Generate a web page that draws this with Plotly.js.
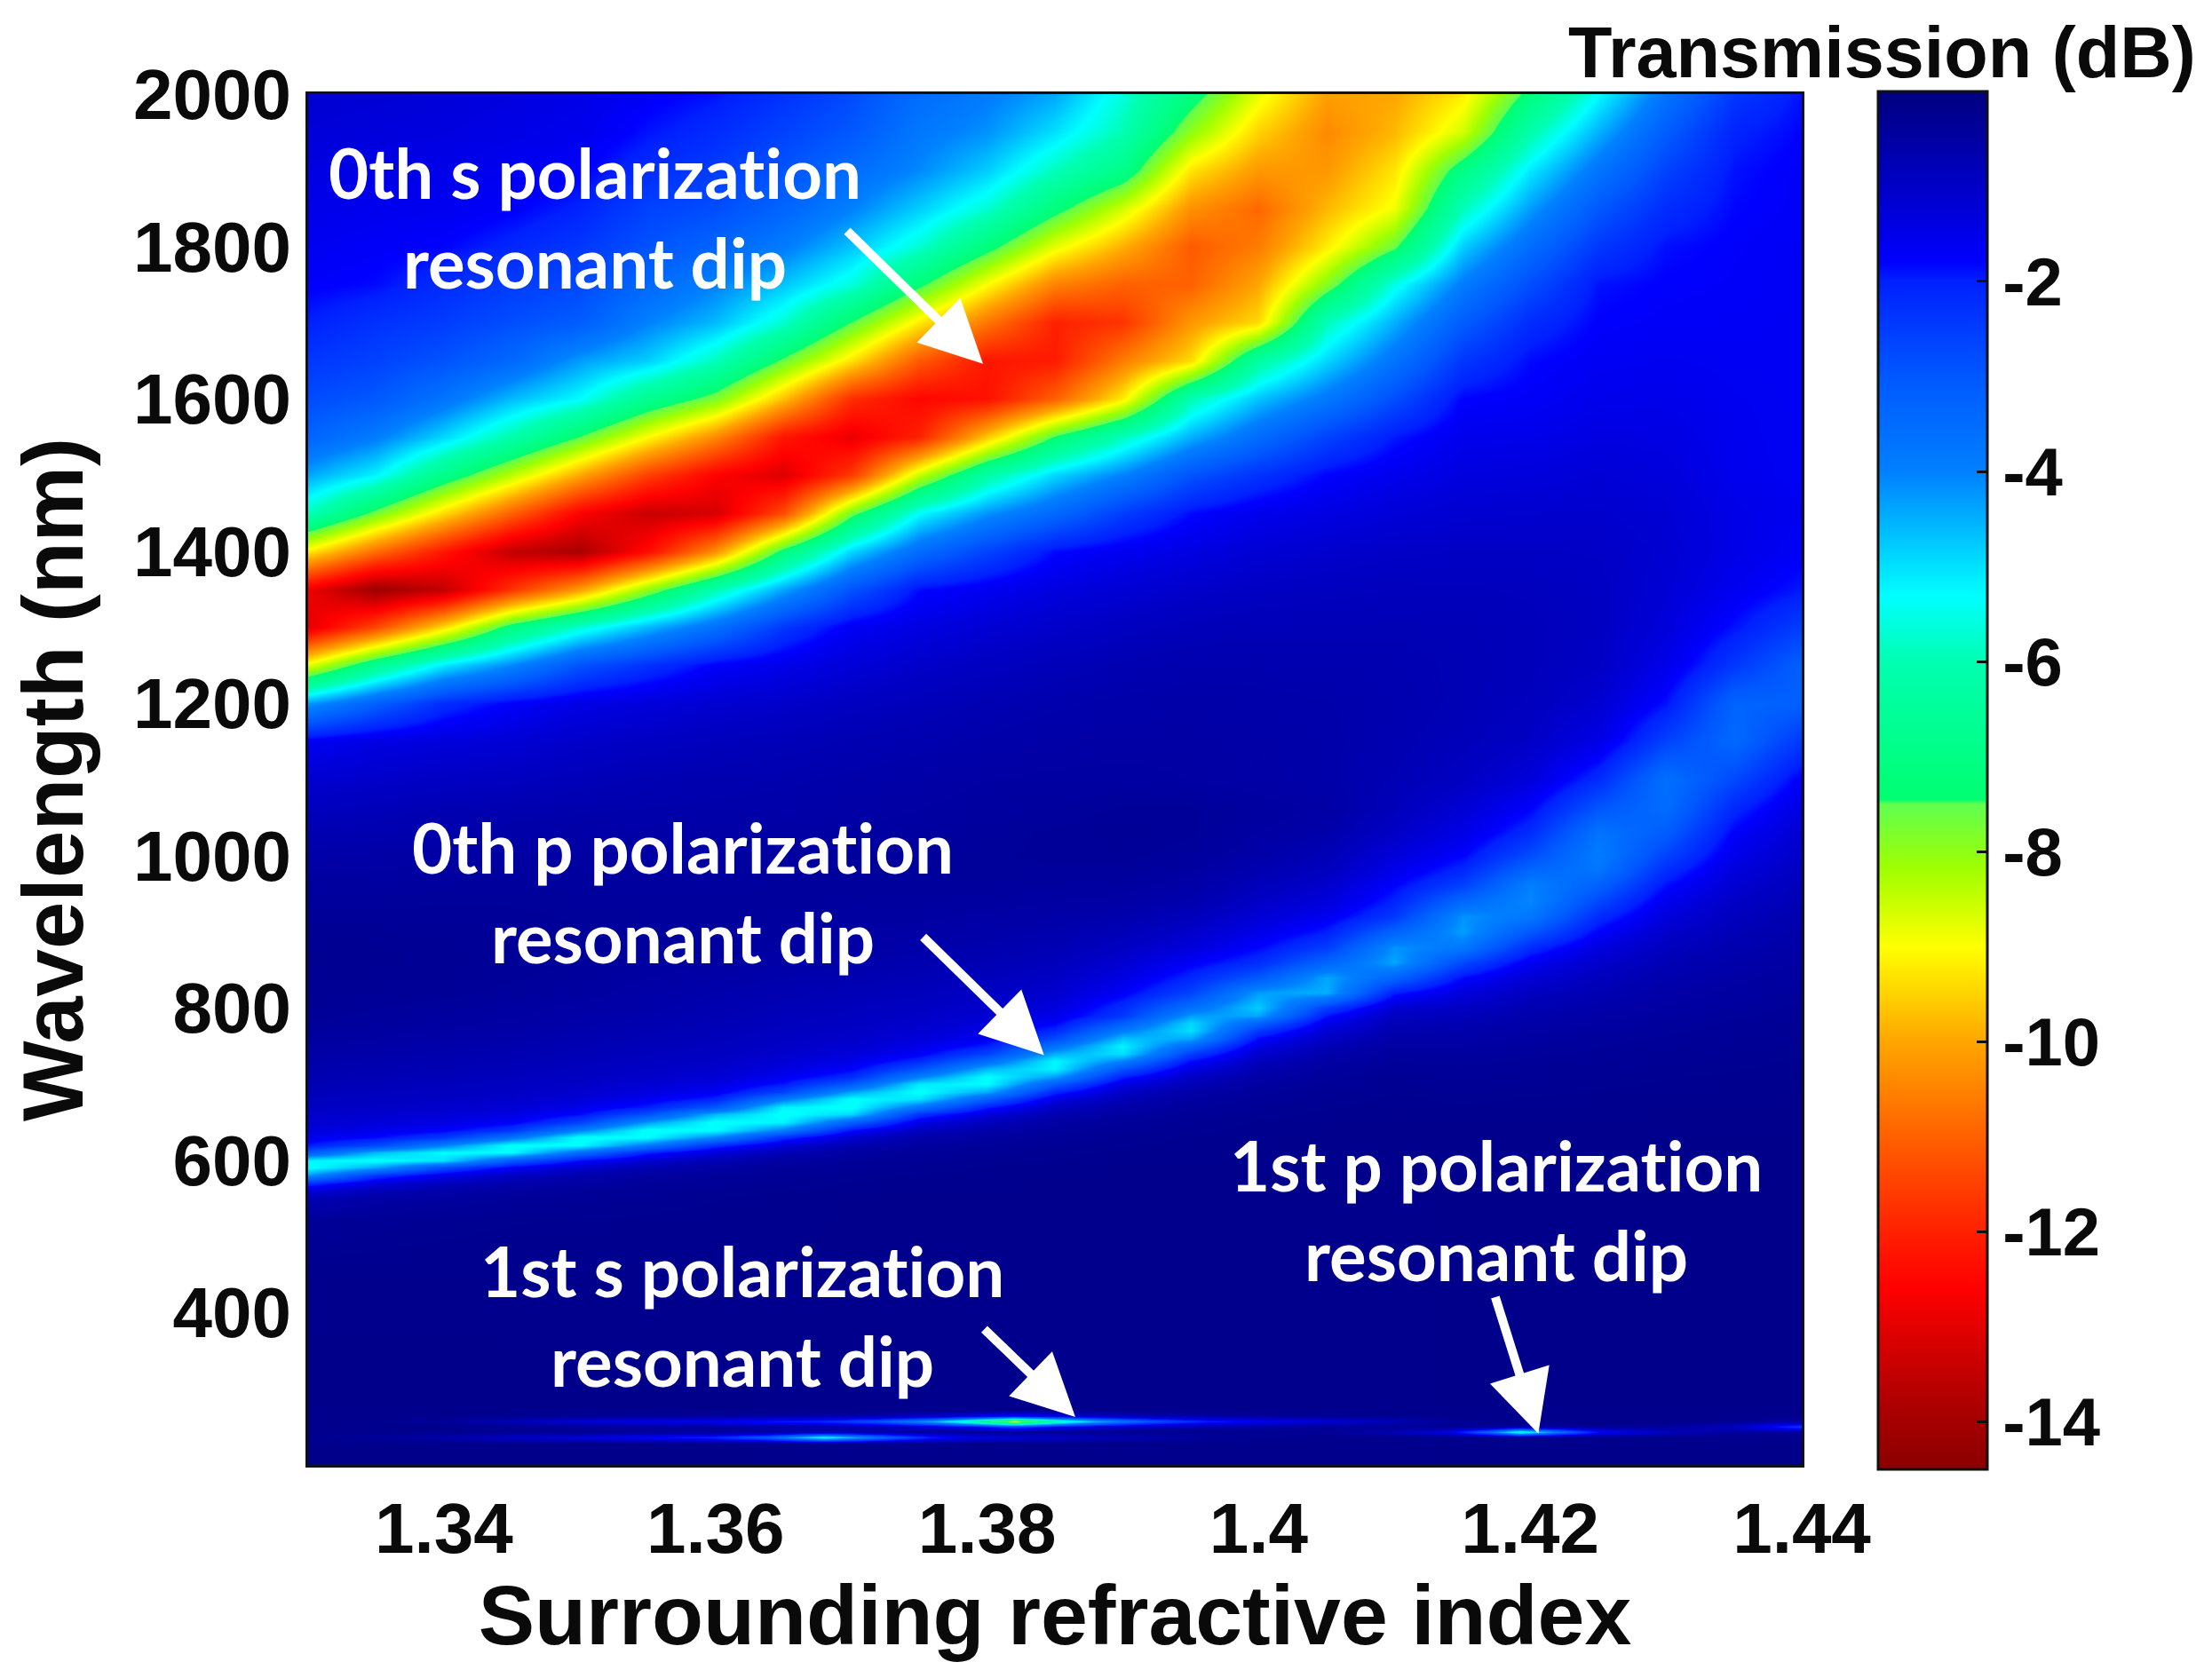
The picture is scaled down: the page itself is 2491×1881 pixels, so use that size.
<!DOCTYPE html>
<html><head><meta charset="utf-8">
<script src="https://cdn.plot.ly/plotly-3.0.1.min.js"></script>
<style>html,body{margin:0;padding:0;background:#fff} svg text{font-variant-ligatures:none;font-feature-settings:"liga" 0}</style></head>
<body><div id="chart" style="width:2491px;height:1881px"></div>
<script>
// Surrounding refractive index (columns) and wavelength in nm (rows) of the main map
const refractiveIndex = [1.33,1.335,1.34,1.345,1.35,1.355,1.36,1.365,1.37,1.375,1.38,1.385,1.39,1.395,1.4,1.405,1.41,1.415,1.42,1.425,1.43,1.435,1.44];
const wavelength = [200,300,450,520,
 550,560,570,580,590,600,610,620,630,640,650,660,670,680,690,700,710,720,730,740,750,760,770,780,790,800,
 820,840,860,880,900,920,940,960,980,1000,1030,1060,
 1100,1150,1200,1250,1300,1350,1400,1450,1500,1550,1600,1650,1700,1750,1800,1850,1900,1950,2000];
// Transmission (dB), one array per refractive index, in wavelength order
const t1330 = [-.15,-.15,-.2,-.35,
 -.75,-1.3,-2.2,-4.2,-5.4,-5.2,-3.1,-1.95,-1.55,-1.3,-1.15,-1.05,-.95,-.88,-.82,-.75,-.7,-.65,-.6,-.55,-.5,-.46,-.42,-.38,-.35,-.32,
 -.28,-.26,-.25,-.26,-.3,-.35,-.4,-.45,-.5,-.6,-.72,-.88,
 -1.15,-1.65,-4.3,-8.8,-13,-12.8,-9.2,-5.9,-4.4,-3.3,-2.75,-2.4,-2,-1.75,-1.6,-1.5,-1.4,-1.25,-1.15];
const t1335 = [-.15,-.15,-.2,-.3,
 -.55,-.78,-1.3,-2.3,-4.4,-5.4,-4.6,-2.7,-1.85,-1.5,-1.27,-1.12,-1,-.93,-.87,-.8,-.75,-.7,-.65,-.6,-.55,-.5,-.47,-.43,-.4,-.37,
 -.32,-.29,-.28,-.28,-.3,-.35,-.4,-.45,-.5,-.55,-.68,-.8,
 -1.05,-1.4,-3.2,-6.7,-11.4,-14.1,-10.8,-7.7,-5.2,-3.9,-3,-2.6,-2.3,-1.85,-1.7,-1.55,-1.45,-1.3,-1.2];
const t1340 = [-.15,-.15,-.2,-.27,
 -.45,-.6,-.85,-1.45,-2.7,-5,-5.3,-4,-2.4,-1.75,-1.42,-1.22,-1.08,-.98,-.92,-.85,-.8,-.74,-.7,-.65,-.6,-.55,-.51,-.47,-.44,-.41,
 -.35,-.31,-.3,-.3,-.32,-.35,-.38,-.42,-.47,-.52,-.62,-.72,
 -.95,-1.3,-2.2,-5.1,-9.4,-13.5,-12.2,-9.4,-6.9,-4.9,-3.7,-2.9,-2.5,-2.2,-1.8,-1.6,-1.5,-1.35,-1.25];
const t1345 = [-.16,-.16,-.2,-.25,
 -.37,-.47,-.62,-.95,-1.65,-3.1,-5.3,-5.4,-3.7,-2.35,-1.7,-1.38,-1.2,-1.06,-.98,-.92,-.86,-.8,-.75,-.7,-.65,-.6,-.56,-.52,-.49,-.46,
 -.4,-.36,-.34,-.34,-.35,-.36,-.38,-.42,-.45,-.5,-.58,-.68,
 -.9,-1.2,-1.75,-4.1,-7.1,-11.7,-13.5,-11,-8.4,-6.1,-4.6,-3.4,-2.8,-2.5,-2.1,-1.75,-1.6,-1.45,-1.35];
const t1350 = [-.16,-.16,-.2,-.24,
 -.32,-.38,-.48,-.65,-1.05,-1.85,-3.5,-5.3,-5.4,-4,-2.55,-1.85,-1.48,-1.25,-1.12,-1.02,-.95,-.89,-.83,-.78,-.73,-.68,-.64,-.6,-.56,-.53,
 -.46,-.42,-.38,-.37,-.37,-.38,-.4,-.43,-.46,-.5,-.56,-.64,
 -.8,-1.05,-1.45,-2.9,-5.7,-10.1,-13.9,-12.6,-10,-7.5,-5.3,-4.3,-3.1,-2.7,-2.4,-2.05,-1.75,-1.55,-1.45];
const t1355 = [-.17,-.17,-.2,-.23,
 -.28,-.32,-.38,-.48,-.7,-1.15,-2.05,-3.8,-5.3,-5.4,-4.3,-2.85,-2,-1.6,-1.35,-1.18,-1.06,-.98,-.92,-.86,-.81,-.76,-.72,-.68,-.64,-.6,
 -.55,-.5,-.45,-.42,-.4,-.4,-.42,-.44,-.47,-.5,-.55,-.62,
 -.72,-.95,-1.3,-2.3,-4.6,-8,-12.4,-13.4,-11.5,-9,-6.7,-4.8,-4,-3.4,-2.9,-2.6,-2.2,-1.9,-1.7];
const t1360 = [-.17,-.17,-.2,-.22,
 -.25,-.28,-.32,-.38,-.5,-.75,-1.25,-2.2,-4,-5.3,-5.4,-4.6,-3,-2.1,-1.65,-1.38,-1.2,-1.08,-1,-.94,-.88,-.84,-.8,-.76,-.72,-.69,
 -.63,-.56,-.5,-.46,-.43,-.42,-.42,-.44,-.47,-.5,-.55,-.6,
 -.68,-.85,-1.15,-1.75,-3.6,-6,-10.3,-13.2,-12.6,-10.4,-7.8,-5.9,-4.6,-4,-3.3,-2.8,-2.5,-2.2,-1.9];
const t1365 = [-.18,-.18,-.2,-.21,
 -.22,-.25,-.28,-.32,-.38,-.5,-.75,-1.25,-2.2,-3.9,-5.2,-5.4,-5.2,-3.9,-2.6,-1.95,-1.6,-1.37,-1.22,-1.1,-1.02,-.96,-.9,-.86,-.82,-.78,
 -.7,-.63,-.56,-.5,-.46,-.43,-.42,-.42,-.44,-.47,-.52,-.58,
 -.65,-.8,-1.05,-1.5,-2.4,-4.4,-7.2,-11.3,-13.1,-12.2,-9.7,-7.6,-5.7,-4.7,-3.9,-3.3,-2.9,-2.6,-2.3];
const t1370 = [-.18,-.18,-.2,-.2,
 -.2,-.22,-.24,-.27,-.31,-.37,-.47,-.7,-1.1,-1.85,-3.2,-4.9,-5.4,-5.35,-4.4,-3.05,-2.2,-1.75,-1.45,-1.28,-1.15,-1.07,-1,-.95,-.9,-.86,
 -.78,-.7,-.62,-.55,-.5,-.46,-.43,-.41,-.42,-.44,-.48,-.54,
 -.6,-.72,-.92,-1.25,-1.65,-2.9,-4.9,-7.7,-11.6,-12.9,-11.8,-9.3,-7.5,-5.6,-4.7,-4,-3.5,-3,-2.75];
const t1375 = [-.18,-.18,-.2,-.2,
 -.2,-.2,-.22,-.24,-.27,-.31,-.37,-.46,-.62,-.92,-1.45,-2.3,-3.7,-5,-5.4,-5.1,-4,-2.9,-2.15,-1.7,-1.45,-1.28,-1.16,-1.07,-1,-.95,
 -.85,-.76,-.68,-.6,-.54,-.48,-.44,-.41,-.4,-.41,-.45,-.5,
 -.55,-.67,-.82,-1.05,-1.4,-1.85,-3.5,-5.3,-8.5,-12,-12.5,-11.1,-9.2,-7.3,-5.7,-4.8,-4.1,-3.8,-3.5];
const t1380 = [-.18,-.18,-.2,-.2,
 -.2,-.2,-.21,-.22,-.24,-.27,-.31,-.37,-.46,-.6,-.85,-1.3,-2,-3.1,-4.4,-5.3,-5.35,-4.6,-3.5,-2.6,-2,-1.65,-1.42,-1.27,-1.17,-1.08,
 -.95,-.85,-.75,-.66,-.58,-.52,-.46,-.42,-.39,-.38,-.4,-.45,
 -.5,-.6,-.72,-.92,-1.2,-1.6,-2.6,-4.2,-6.2,-9.6,-12.3,-12.2,-10.7,-9,-7.2,-5.7,-4.8,-4.2,-3.9];
const t1385 = [-.18,-.18,-.2,-.2,
 -.2,-.2,-.2,-.21,-.22,-.24,-.27,-.3,-.35,-.42,-.52,-.68,-.95,-1.4,-2.1,-3.1,-4.3,-5.2,-5.25,-4.5,-3.6,-2.75,-2.15,-1.75,-1.5,-1.33,
 -1.12,-.97,-.84,-.74,-.65,-.57,-.5,-.44,-.39,-.36,-.36,-.42,
 -.48,-.55,-.65,-.82,-1.05,-1.35,-1.85,-3.4,-4.9,-7.4,-11,-12.1,-12,-10.5,-8.8,-7.2,-5.9,-5,-4.4];
const t1390 = [-.18,-.18,-.2,-.2,
 -.2,-.2,-.2,-.2,-.2,-.21,-.23,-.25,-.28,-.32,-.38,-.46,-.58,-.75,-1,-1.4,-2,-2.9,-4,-5,-5.2,-4.7,-3.9,-3.1,-2.4,-2.2,
 -1.7,-1.4,-1.15,-.95,-.8,-.64,-.53,-.46,-.4,-.35,-.32,-.36,
 -.48,-.52,-.6,-.72,-.92,-1.2,-1.6,-2.5,-4,-5.9,-9.2,-10.6,-11.7,-11,-9.9,-8.6,-6.9,-6,-5.6];
const t1395 = [-.18,-.18,-.2,-.2,
 -.2,-.2,-.2,-.2,-.2,-.2,-.21,-.22,-.24,-.27,-.3,-.34,-.4,-.48,-.6,-.76,-1,-1.35,-1.85,-2.5,-3.4,-4.4,-5,-4.9,-4.3,-3.6,
 -2.6,-2.1,-1.7,-1.3,-1.05,-.85,-.66,-.56,-.48,-.42,-.36,-.36,
 -.5,-.52,-.58,-.66,-.82,-1.05,-1.4,-1.85,-2.9,-4.5,-6,-9.4,-10.2,-11,-11.1,-10.3,-9.3,-8,-7.1];
const t1400 = [-.18,-.18,-.2,-.2,
 -.2,-.2,-.2,-.2,-.2,-.2,-.2,-.2,-.21,-.22,-.24,-.27,-.3,-.34,-.4,-.47,-.57,-.7,-.88,-1.1,-1.4,-1.8,-2.4,-3.3,-4.4,-4.8,
 -4.3,-3,-2.2,-1.8,-1.5,-1.2,-1,-.85,-.7,-.6,-.5,-.45,
 -.55,-.56,-.6,-.66,-.78,-.95,-1.2,-1.55,-2.3,-3.5,-4.7,-6.3,-9.4,-10,-10.6,-10.9,-10.2,-9.5,-8.8];
const t1405 = [-.18,-.18,-.19,-.19,
 -.19,-.19,-.19,-.19,-.19,-.19,-.19,-.19,-.2,-.2,-.21,-.23,-.25,-.28,-.31,-.35,-.4,-.46,-.54,-.65,-.78,-.95,-1.2,-1.5,-1.9,-2.5,
 -4.5,-4.4,-3.3,-2.5,-2,-1.6,-1.3,-1.1,-.9,-.78,-.62,-.52,
 -.6,-.6,-.62,-.68,-.78,-.9,-1.1,-1.4,-1.8,-2.6,-3.8,-4.9,-5.9,-7.9,-9.2,-9.8,-10.2,-10.4,-10.1];
const t1410 = [-.18,-.18,-.18,-.18,
 -.18,-.18,-.18,-.18,-.18,-.18,-.18,-.18,-.18,-.18,-.19,-.2,-.21,-.23,-.25,-.27,-.3,-.34,-.38,-.43,-.5,-.58,-.68,-.8,-.95,-1.15,
 -2,-3.3,-4.4,-4.2,-3.3,-2.4,-2.05,-1.8,-1.5,-1.3,-1,-.85,
 -.75,-.7,-.68,-.7,-.76,-.86,-1.02,-1.25,-1.55,-1.95,-2.8,-3.7,-4.5,-5.5,-7.6,-8.9,-9.3,-9.8,-10];
const t1415 = [-.17,-.17,-.17,-.17,
 -.17,-.17,-.17,-.18,-.18,-.18,-.19,-.19,-.2,-.2,-.21,-.22,-.24,-.26,-.28,-.3,-.33,-.36,-.4,-.44,-.5,-.56,-.63,-.72,-.82,-.95,
 -1.3,-1.85,-2.7,-3.8,-4.3,-4.2,-3.4,-2.6,-2.15,-1.8,-1.45,-1.2,
 -.95,-.82,-.76,-.76,-.78,-.85,-.98,-1.15,-1.35,-1.55,-1.8,-2.4,-3.1,-3.9,-4.8,-5.9,-7,-8.6,-9.2];
const t1420 = [-.16,-.16,-.16,-.16,
 -.16,-.16,-.16,-.17,-.17,-.17,-.18,-.18,-.19,-.19,-.2,-.21,-.22,-.24,-.26,-.28,-.3,-.33,-.36,-.39,-.43,-.47,-.52,-.58,-.65,-.72,
 -.92,-1.2,-1.6,-2.2,-3,-3.8,-4.1,-4,-3.4,-2.8,-2.2,-1.8,
 -1.3,-1,-.88,-.84,-.84,-.88,-.98,-1.12,-1.3,-1.5,-1.7,-1.85,-2.2,-2.8,-3.5,-4.3,-5.1,-6.1,-7.2];
const t1425 = [-.16,-.16,-.16,-.16,
 -.16,-.16,-.16,-.17,-.17,-.17,-.18,-.18,-.19,-.19,-.2,-.21,-.22,-.23,-.24,-.26,-.28,-.3,-.33,-.35,-.38,-.41,-.45,-.5,-.54,-.6,
 -.72,-.88,-1.08,-1.35,-1.75,-2.2,-2.7,-3.2,-3.7,-3.9,-3.7,-3,
 -2.2,-1.45,-1.15,-.98,-.94,-.95,-1,-1.1,-1.22,-1.38,-1.52,-1.65,-1.78,-1.9,-2.4,-3,-3.7,-4.5,-5.3];
const t1430 = [-.15,-.15,-.15,-.15,
 -.15,-.15,-.15,-.16,-.16,-.16,-.17,-.17,-.18,-.18,-.19,-.2,-.21,-.22,-.23,-.24,-.25,-.27,-.29,-.31,-.33,-.36,-.39,-.42,-.45,-.49,
 -.56,-.65,-.76,-.9,-1.07,-1.3,-1.55,-1.85,-2.2,-2.6,-3.1,-3.5,
 -3.6,-2.6,-1.9,-1.5,-1.3,-1.2,-1.15,-1.2,-1.3,-1.4,-1.5,-1.6,-1.7,-1.78,-1.88,-2.2,-2.6,-3.1,-3.7];
const t1435 = [-.15,-.15,-.15,-.15,
 -.15,-.15,-.15,-.15,-.16,-.16,-.16,-.17,-.17,-.18,-.18,-.19,-.2,-.21,-.22,-.23,-.24,-.25,-.26,-.28,-.3,-.32,-.34,-.36,-.39,-.42,
 -.47,-.53,-.6,-.68,-.77,-.88,-1,-1.15,-1.3,-1.5,-1.75,-2.1,
 -2.7,-3.4,-3.3,-2.4,-1.9,-1.6,-1.45,-1.45,-1.55,-1.58,-1.6,-1.64,-1.68,-1.72,-1.75,-1.82,-1.9,-2.05,-2.4];
const t1440 = [-.15,-.15,-.15,-.15,
 -.15,-.15,-.15,-.15,-.15,-.16,-.16,-.16,-.17,-.17,-.18,-.18,-.19,-.2,-.2,-.21,-.22,-.23,-.24,-.25,-.26,-.28,-.29,-.31,-.33,-.35,
 -.39,-.43,-.48,-.54,-.6,-.67,-.75,-.83,-.92,-1,-1.15,-1.35,
 -1.7,-2.4,-3.2,-3.2,-2.5,-1.95,-1.7,-1.6,-1.65,-1.65,-1.65,-1.65,-1.65,-1.65,-1.65,-1.7,-1.7,-1.8,-1.9];
const mainColumns = [t1330,t1335,t1340,t1345,t1350,t1355,t1360,t1365,t1370,t1375,t1380,t1385,t1390,t1395,t1400,t1405,t1410,t1415,t1420,t1425,t1430,t1435,t1440];

// The thin first-order lines near 240-260 nm, on their own finer grid
const thinIndex = [1.33,1.335,1.34,1.345,1.35,1.355,1.36,1.364,1.368,1.372,1.376,1.379,1.382,1.385,1.388,1.392,1.396,1.4,1.405,1.41,1.414,1.417,1.4193,1.422,1.425,1.43,1.435,1.44];
const thinWavelength = [228,236,243,250,257,264,272];
const thin228 = Array(28).fill(-.18);
const thin236 = [-.25,-.4,-.6,-1,-1.3,-1.7,-2.2,-3.3,-5.6,-3.6,-2,-1.4,-1.2,-1,-.8,-.6,-.4,-.3,-.2,-.18,-.18,-.18,-.18,-.18,-.18,-.18,-.18,-.18];
const thin243 = [-.18,-.2,-.22,-.25,-.3,-.35,-.4,-.5,-.8,-.6,-.4,-.3,-.3,-.28,-.25,-.22,-.2,-.25,-.3,-.8,-1.4,-3.5,-6,-3.8,-1.8,-.9,-.5,-.4];
const thin250 = [-.18,-.2,-.22,-.3,-.4,-.45,-.5,-.55,-.6,-.8,-1.2,-1.8,-2.6,-1.8,-1.2,-.8,-.6,-.5,-.4,-.3,-.25,-.3,-.5,-.4,-.3,-.4,-.9,-2.5];
const thin257 = [-.2,-.25,-.35,-.8,-1.2,-1.4,-1.6,-1.9,-2.2,-3,-4.5,-6.5,-8.8,-6.5,-4.6,-3,-2.1,-1.6,-1.2,-.8,-.4,-.2,-.18,-.18,-.18,-.2,-.3,-.6];
const thin264 = [-.18,-.18,-.2,-.25,-.35,-.4,-.42,-.5,-.55,-.7,-1,-1.4,-1.9,-1.4,-1,-.7,-.55,-.42,-.35,-.25,-.2,-.18,-.18,-.18,-.18,-.18,-.18,-.18];
const thin272 = Array(28).fill(-.18);
const thinRows = [thin228,thin236,thin243,thin250,thin257,thin264,thin272];

const xTickValues = [1.34,1.36,1.38,1.4,1.42,1.44];
const xTickLabels = ['1.34','1.36','1.38','1.4','1.42','1.44'];
const yTickValues = [400,600,800,1000,1200,1400,1600,1800,2000];
const barTickValues = [-2,-4,-6,-8,-10,-12,-14];
const barTickLabels = ['-2','-4','-6','-8','-10','-12','-14'];

const jetStops = [[0,'#8b0000'],[.05,'#b00000'],[.1,'#e00000'],[.131,'#ff0000'],[.172,'#ff2000'],[.241,'#ff6000'],[.31,'#ffa500'],[.379,'#ffff00'],[.436,'#a0ff00'],[.483,'#60ff50'],[.486,'#00ff70'],[.586,'#00ffb0'],[.634,'#00ffff'],[.724,'#0080ff'],[.793,'#0058ff'],[.862,'#0020ff'],[.876,'#0000ff'],[1,'#00007f']];

const boldFont = (size) => ({family:'"Liberation Sans", Arial, sans-serif',size,color:'#0a0a0a',weight:700});
const noteFont = {family:'Lato, "Noto Sans", sans-serif',size:78,color:'#fff',weight:700};
const note = (x,y,text) => ({x,y,xref:'x',yref:'y',text,showarrow:false,font:noteFont,align:'center'});
const arrow = (x0,y0,x1,y1) => ({x:x1,y:y1,ax:x0,ay:y0,xref:'x',yref:'y',axref:'x',ayref:'y',text:'',showarrow:true,arrowhead:2,arrowsize:1.4,arrowwidth:10,arrowcolor:'#fff',standoff:0,startstandoff:0});

const traces = [
 {type:'heatmap',x:refractiveIndex,y:wavelength,z:mainColumns,transpose:true,zsmooth:'best',coloraxis:'coloraxis'},
 {type:'heatmap',x:thinIndex,y:thinWavelength,z:thinRows,zsmooth:'best',coloraxis:'coloraxis'}
];
const layout = {
 width:2491,height:1881,margin:{l:347,r:462,t:106,b:231,pad:0},paper_bgcolor:'#fff',plot_bgcolor:'#00008f',showlegend:false,
 xaxis:{range:[1.33,1.44],tickvals:xTickValues,ticktext:xTickLabels,ticks:'',showgrid:false,zeroline:false,showline:true,mirror:true,linecolor:'#111',linewidth:3,
  tickfont:boldFont(80),title:{text:'Surrounding refractive index',font:boldFont(95),standoff:14}},
 yaxis:{range:[200,2000],tickvals:yTickValues,ticks:'',showgrid:false,zeroline:false,showline:true,mirror:true,linecolor:'#111',linewidth:3,
  tickfont:boldFont(80),title:{text:'Wavelength (nm)',font:boldFont(96),standoff:25}},
 coloraxis:{cmin:-14.5,cmax:0,colorscale:jetStops,colorbar:{
  thicknessmode:'pixels',thickness:123,lenmode:'pixels',len:1552,x:1.0511,xanchor:'left',xpad:0,y:1.002,yanchor:'top',ypad:0,
  outlinecolor:'#111',outlinewidth:3,tickmode:'array',tickvals:barTickValues,ticktext:barTickLabels,ticks:'inside',ticklen:13,tickwidth:3,tickcolor:'#111',tickfont:boldFont(76)}},
 annotations:[
  note(1.3511,1838,'0th s polarization<br>resonant dip'),
  note(1.3576,952,'0th p polarization<br>resonant dip'),
  note(1.3620,396,'1st s polarization<br>resonant dip'),
  note(1.4175,535,'1st p polarization<br>resonant dip'),
  arrow(1.3696,1822,1.3797,1646),
  arrow(1.3752,895,1.3842,738),
  arrow(1.3797,380,1.3865,263),
  arrow(1.4174,422,1.4206,241),
  {xref:'paper',yref:'paper',x:1.054,y:1.0304,text:'Transmission (dB)',showarrow:false,font:boldFont(81),xanchor:'center',yanchor:'middle'}
 ]
};
Plotly.newPlot('chart',traces,layout,{displayModeBar:false});
</script></body></html>
